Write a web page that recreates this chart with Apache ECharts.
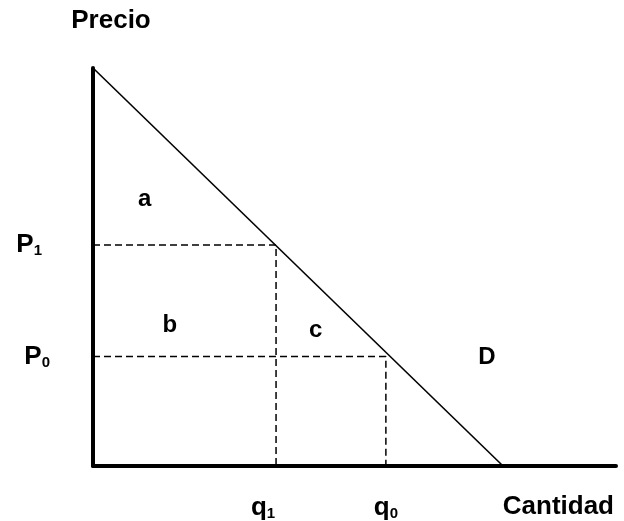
<!DOCTYPE html>
<html>
<head>
<meta charset="utf-8">
<script src="https://cdn.jsdelivr.net/npm/echarts@6/dist/echarts.min.js"></script>
<style>
  html, body { margin: 0; padding: 0; background: #fff; }
  #chart { width: 624px; height: 521px; }
</style>
</head>
<body>
<div id="chart"></div>
<script>
// demand curve end points (cantidad, precio)
const demand = [[0, 10], [7.84, 0]]
// price levels and quantities
const P1 = 5.55
const P0 = 2.75
const q1 = 3.5
const q0 = 5.6
// dashed guide lines
const guideP1 = [[0, P1], [q1, P1], [q1, 0]]
const guideP0 = [[0, P0], [q0, P0], [q0, 0]]
// region labels
const regionLabels = [
    { name: 'a', value: [0.99, 6.71] },
    { name: 'b', value: [1.47, 3.54] },
    { name: 'c', value: [4.26, 3.42] },
    { name: 'D', value: [7.53, 2.74] }
]

const font = 'Liberation Sans, Arial, sans-serif'
const big = { fontFamily: font, fontWeight: 'bold', fontSize: 26, color: '#000' }
const small = { fontFamily: font, fontWeight: 'bold', fontSize: 15, color: '#000' }
const rich = {
    m: big,
    s: Object.assign({}, small, { padding: [12, 0, 0, 0] }),
    // q1 sits left of its line, P1 sits further left than P0
    sq: Object.assign({}, small, { padding: [12, 26, 0, 0] }),
    sp: Object.assign({}, small, { padding: [12, 8, 0, 0] })
}

const chart = echarts.init(document.getElementById('chart'))

const option = {
    animation: false,
    grid: { left: 93, right: 8, top: 68, bottom: 55 },
    xAxis: {
        type: 'value',
        min: 0,
        max: 10,
        name: 'Cantidad',
        nameLocation: 'end',
        nameGap: -2,
        nameTextStyle: Object.assign({}, big, {
            align: 'right', verticalAlign: 'top', padding: [28, 0, 0, 0]
        }),
        splitLine: { show: false },
        axisTick: { show: false },
        axisLine: { lineStyle: { color: '#000', width: 4 } },
        axisLabel: {
            customValues: [q1, q0],
            margin: 28,
            formatter: v => (v === q1 ? '{m|q}{sq|1}' : '{m|q}{s|0}'),
            rich: rich
        }
    },
    yAxis: {
        type: 'value',
        min: 0,
        max: 10,
        name: 'Precio',
        nameLocation: 'end',
        nameGap: 34,
        nameTextStyle: Object.assign({}, big, {
            align: 'center', padding: [0, 0, 0, 36]
        }),
        splitLine: { show: false },
        axisTick: { show: false },
        axisLine: { lineStyle: { color: '#000', width: 4 } },
        axisLabel: {
            customValues: [P1, P0],
            margin: 43,
            formatter: v => (v === P1 ? '{m|P}{sp|1}' : '{m|P}{s|0}'),
            rich: rich
        }
    },
    series: [
        {
            type: 'line',
            data: demand,
            showSymbol: false,
            lineStyle: { color: '#000', width: 1.6 },
            z: 3
        },
        {
            type: 'line',
            data: guideP1,
            showSymbol: false,
            lineStyle: { color: '#000', width: 1.5, type: [7, 4] }
        },
        {
            type: 'line',
            data: guideP0,
            showSymbol: false,
            lineStyle: { color: '#000', width: 1.5, type: [7, 4] }
        },
        {
            type: 'scatter',
            data: regionLabels,
            symbolSize: 1,
            itemStyle: { color: 'rgba(0,0,0,0)', opacity: 1 },
            label: Object.assign({
                show: true,
                position: 'inside',
                formatter: '{b}'
            }, big, { fontSize: 24 })
        }
    ]
}

chart.setOption(option)
</script>
</body>
</html>
